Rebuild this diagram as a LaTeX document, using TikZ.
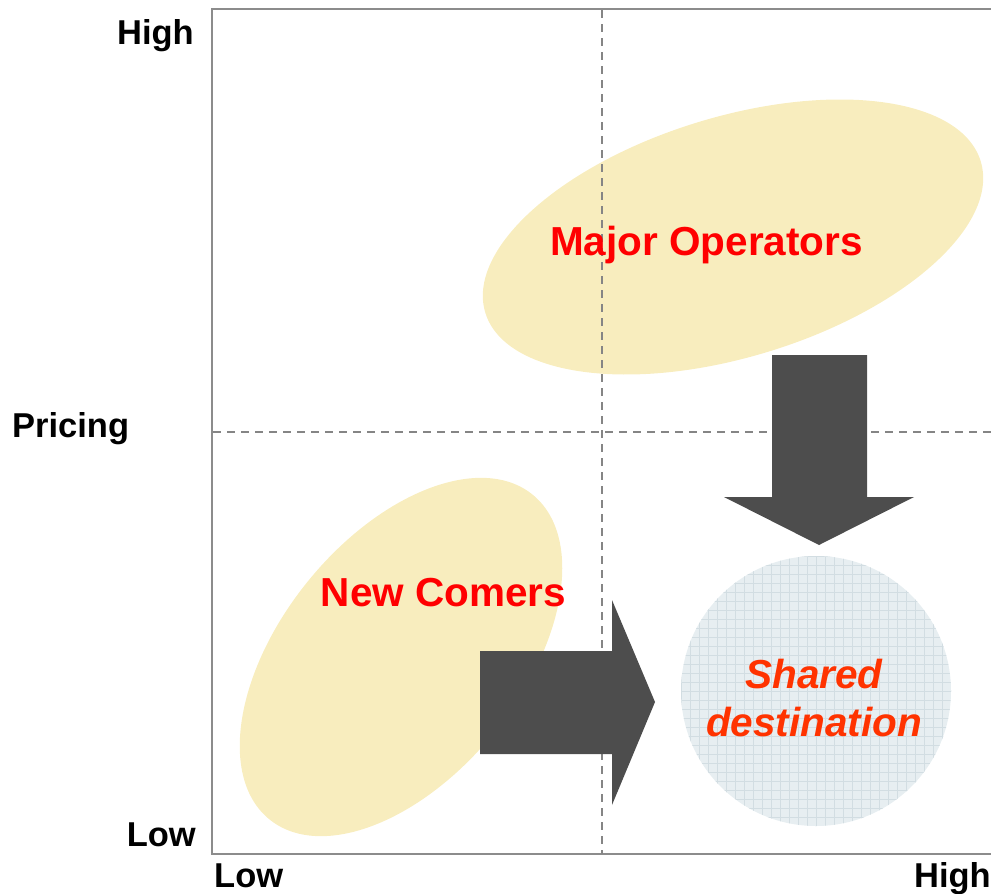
\documentclass[tikz,border=0pt]{standalone}
\usepackage{fontspec}
\setmainfont{Liberation Sans}
\definecolor{blobfill}{HTML}{F8EDBE}
\definecolor{framegray}{HTML}{8C8C8C}
\definecolor{dashgray}{HTML}{858585}
\definecolor{arrowgray}{HTML}{4D4D4D}
\definecolor{destfill}{HTML}{E7EEF1}
\definecolor{destgrid}{HTML}{D2DDE2}
\definecolor{labelred}{HTML}{FF0000}
\definecolor{destred}{HTML}{FF3300}
\tikzset{
  framestyle/.style={draw=framegray, line width=2pt},
  divider/.style={draw=dashgray, line width=1.7pt, dash pattern=on 7.5pt off 6.5pt},
  blob/.style={fill=blobfill},
  bigarrow/.style={fill=arrowgray},
  axislabel/.style={inner sep=0pt, font=\fontsize{34.5}{40}\selectfont\bfseries, text=black},
  grouplabel/.style={inner sep=0pt, font=\fontsize{40.5}{48}\selectfont\bfseries, text=labelred},
}
\begin{document}
\begin{tikzpicture}[x=1pt,y=-1pt]
\useasboundingbox (0,0) rectangle (991,894);

% market groups
\fill[blob, shift={(733,237)}, rotate=17] (0,0) ellipse [x radius=259pt, y radius=120pt];
\fill[blob, shift={(401,657)}, rotate=51] (0,0) ellipse [x radius=209pt, y radius=120pt];

% chart frame and quadrant dividers
\draw[framestyle] (991,9) -- (212,9) -- (212,854) -- (991,854);
\draw[divider] (602,10) -- (602,854);
\draw[divider] (213,432) -- (991,432);

% shared destination
\node[circle, minimum size=270pt, inner sep=0pt, fill=destfill,
  path picture={\draw[destgrid, line width=0.5pt, step=9pt]
    (path picture bounding box.south west) grid (path picture bounding box.north east);}]
  (dest) at (816,691) {};

% movement arrows
\fill[bigarrow] (480,651) -- (612,651) -- (612,600) -- (655,702) -- (612,805)
  -- (612,754) -- (480,754) -- cycle;
\fill[bigarrow] (772,355) -- (867,355) -- (867,497) -- (914,497) -- (819,545)
  -- (724,497) -- (772,497) -- cycle;

% group labels
\node[grouplabel, anchor=base] (major) at (706.5,255) {Major Operators};
\node[grouplabel, anchor=base] (newc) at (443.5,606) {New Comers};
\node[grouplabel, text=destred, align=center, font=\fontsize{40.5}{48}\selectfont\bfseries\itshape]
  (destlabel) at (814,698) {Shared\\destination};

% axis labels
\node[axislabel, anchor=base east] (yhigh) at (194,44) {High};
\node[axislabel, anchor=base west] (ytitle) at (12,437) {Pricing};
\node[axislabel, anchor=base east] (ylow) at (196,846) {Low};
\node[axislabel, anchor=base west] (xlow) at (214,887) {Low};
\node[axislabel, anchor=base east] (xhigh) at (991,887) {High};
\end{tikzpicture}
\end{document}
